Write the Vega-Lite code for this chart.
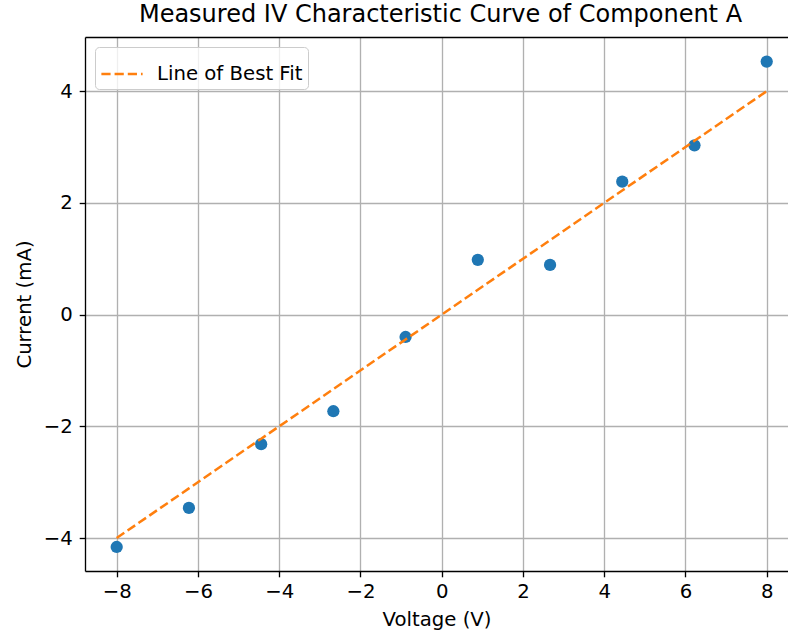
{
  "$schema": "https://vega.github.io/schema/vega-lite/v6.json",
  "width": 703,
  "height": 534,
  "autosize": {"type": "none"},
  "padding": {"left": 85, "top": 37, "right": 0, "bottom": 63},
  "background": "white",
  "title": {
    "text": "Measured IV Characteristic Curve of Component A",
    "fontSize": 24,
    "font": "DejaVu Sans",
    "fontWeight": "normal",
    "color": "#000000",
    "offset": 10,
    "dx": 4
  },
  "config": {
    "view": {"stroke": null},
    "axis": {
      "labelFont": "DejaVu Sans",
      "labelFontSize": 19.7,
      "labelColor": "#000000",
      "titleFont": "DejaVu Sans",
      "titleFontSize": 19.7,
      "titleFontWeight": "normal",
      "titleColor": "#000000",
      "domainColor": "#000000",
      "domainWidth": 1.33,
      "tickColor": "#000000",
      "tickWidth": 1.33,
      "tickSize": 5.8,
      "gridColor": "#b0b0b0",
      "gridWidth": 1.33,
      "gridOpacity": 1
    }
  },
  "data": {
    "values": [
      {"x": -8, "current": -4.16, "fit": -4.0},
      {"x": -6.222, "current": -3.46, "fit": -3.111},
      {"x": -4.444, "current": -2.32, "fit": -2.222},
      {"x": -2.667, "current": -1.73, "fit": -1.333},
      {"x": -0.889, "current": -0.40, "fit": -0.444},
      {"x": 0.889, "current": 0.98, "fit": 0.444},
      {"x": 2.667, "current": 0.89, "fit": 1.333},
      {"x": 4.444, "current": 2.38, "fit": 2.222},
      {"x": 6.222, "current": 3.03, "fit": 3.111},
      {"x": 8, "current": 4.53, "fit": 4.0}
    ]
  },
  "resolve": {"axis": {"x": "independent"}},
  "layer": [
    {
      "mark": {"type": "point", "filled": true, "opacity": 1, "size": 150, "color": "#1f77b4", "shape": "circle"},
      "encoding": {
        "x": {
          "field": "x", "type": "quantitative",
          "scale": {"domain": [-8.78, 8.524], "nice": false, "zero": false},
          "axis": {"orient": "bottom", "values": [-8, -6, -4, -2, 0, 2, 4, 6, 8], "grid": true, "title": "Voltage (V)", "labelPadding": 5, "titlePadding": 8}
        },
        "y": {
          "field": "current", "type": "quantitative",
          "scale": {"domain": [-4.59, 4.97], "nice": false, "zero": false},
          "axis": {"orient": "left", "values": [-4, -2, 0, 2, 4], "grid": true, "title": "Current (mA)", "labelPadding": 7, "titlePadding": 9}
        }
      }
    },
    {
      "mark": {"type": "line", "strokeWidth": 2.5, "strokeDash": [9.2, 4]},
      "encoding": {
        "x": {
          "field": "x", "type": "quantitative",
          "axis": {"orient": "top", "labels": false, "ticks": false, "grid": false, "title": null, "domain": true}
        },
        "y": {
          "field": "fit", "type": "quantitative",
          "axis": {"orient": "left", "values": [-4, -2, 0, 2, 4], "grid": true, "title": "Current (mA)", "labelPadding": 7, "titlePadding": 9}
        },
        "color": {
          "datum": "Line of Best Fit",
          "type": "nominal",
          "scale": {"range": ["#ff7f0e"]},
          "legend": {
            "orient": "none",
            "legendX": 10,
            "legendY": 10,
            "title": null,
            "fillColor": "rgba(255,255,255,0.8)",
            "strokeColor": "#cccccc",
            "cornerRadius": 4,
            "padding": 5,
            "labelFont": "DejaVu Sans",
            "labelFontSize": 19.7,
            "labelColor": "#000000",
            "labelOffset": 13,
            "symbolType": "stroke",
            "symbolSize": 1700,
            "symbolStrokeWidth": 2.5,
            "symbolDash": [9.2, 4]
          }
        }
      }
    }
  ]
}
